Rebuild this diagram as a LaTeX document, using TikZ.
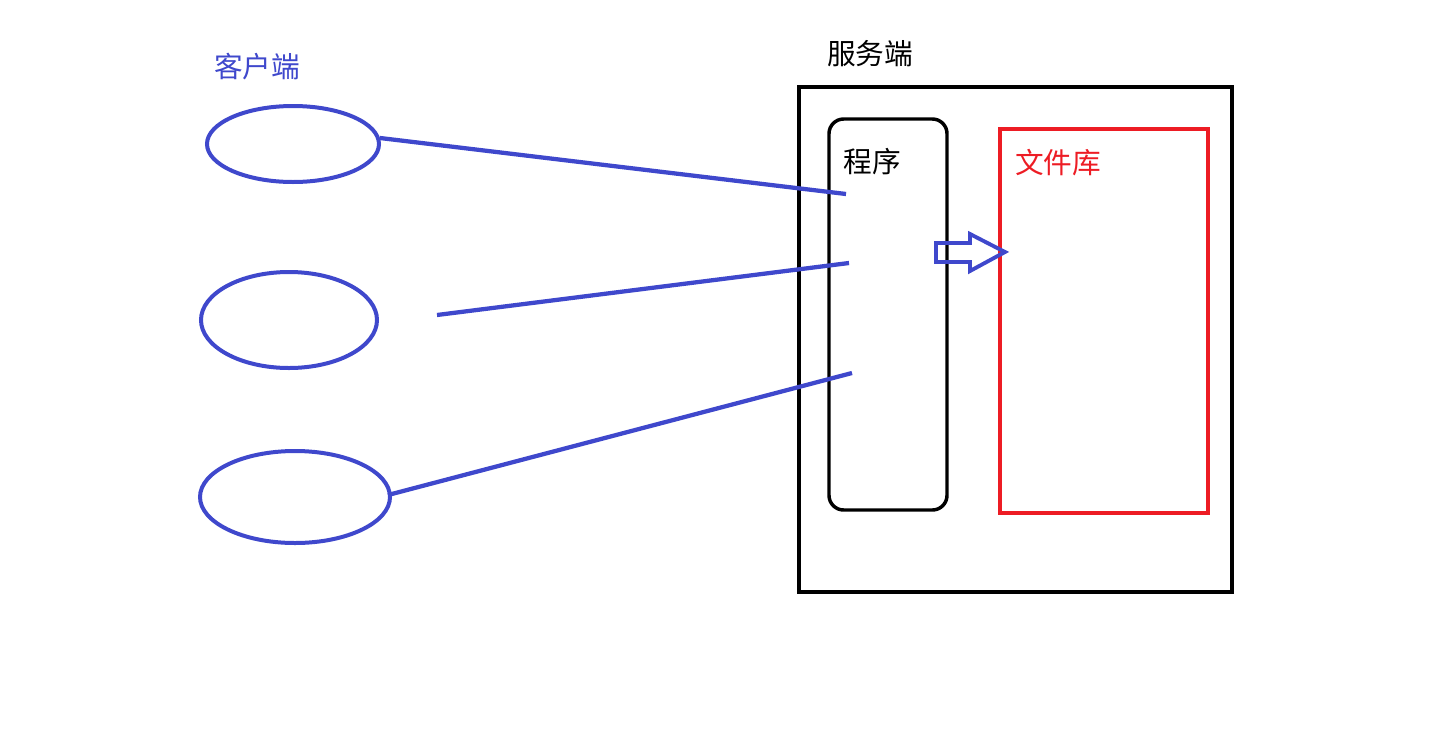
\documentclass[tikz,border=0pt]{standalone}
\usepackage{fontspec}
\newfontfamily\cjk{Noto Sans CJK SC}
\usetikzlibrary{shapes.geometric}
\definecolor{penblue}{HTML}{3F48CC}
\definecolor{penred}{HTML}{ED1C24}
\begin{document}
\begin{tikzpicture}[x=0.75pt,y=-0.75pt,
  client/.style={draw=penblue,line width=3pt,ellipse,inner sep=0pt},
  wire/.style={draw=penblue,line width=3.2pt},
  label/.style={font=\cjk\fontsize{21.5}{24}\selectfont,inner sep=0pt}]
\useasboundingbox (0,0) rectangle (1434,736);
% clients
\node[label,text=penblue] (ctitle) at (257,67) {客户端};
\node[client,minimum width=129pt,minimum height=57pt] (c1) at (293,144) {};
\node[client,minimum width=132pt,minimum height=72pt] (c2) at (289,320) {};
\node[client,minimum width=142.5pt,minimum height=69pt] (c3) at (295,497) {};
% server frame
\node[label] (stitle) at (870,54) {服务端};
\node[draw,line width=3pt,minimum width=324.75pt,minimum height=378.75pt,inner sep=0pt] (server) at (1015.5,339.5) {};
% program box
\node[draw,line width=2.6pt,rounded corners=11pt,minimum width=88.5pt,minimum height=293.25pt,inner sep=0pt] (prog) at (888,314.5) {};
\node[label] (ptitle) at (872,162) {程序};
% file store
\node[draw=penred,line width=3pt,minimum width=156pt,minimum height=288pt,inner sep=0pt] (store) at (1104,321) {};
\node[label,text=penred] (stitle2) at (1058,163) {文件库};
% request wires
\coordinate (p1) at (846,194);
\coordinate (p2) at (849,263);
\coordinate (p3) at (852,373);
\coordinate (q2) at (437,315);
\draw[wire] (c1.east) ++(-1,-6) -- (p1);
\draw[wire] (q2) -- (p2);
\draw[wire] (c3.east) ++(-4,-2) -- (p3);
% block arrow from program to store
\draw[penblue,line width=2.9pt,line join=miter]
  (936,243) -- (970,243) -- (970,234) -- (1005,252) -- (970,271) -- (970,262) -- (936,262) -- cycle;
\end{tikzpicture}
\end{document}
